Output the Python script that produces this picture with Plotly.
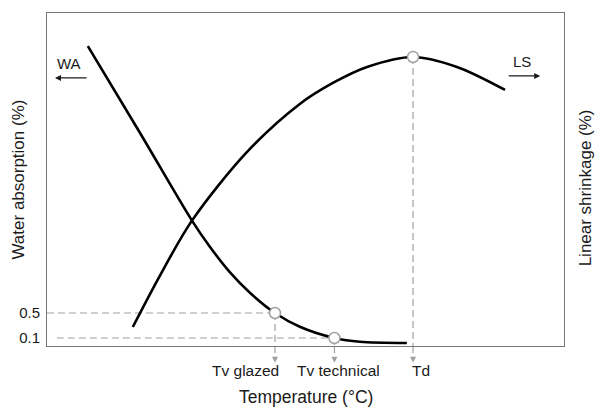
import plotly.graph_objects as go

# ---------------------------------------------------------
# Data (arbitrary temperature scale)
# ---------------------------------------------------------

temp_wa = [7.9, 18.0, 28.1, 31.5, 35.4, 39.3, 44.1, 48.9, 55.6, 60.5, 69.6]
water_absorption = [4.77, 3.38, 1.97, 1.56, 1.15, 0.82, 0.50, 0.28, 0.10, 0.04, 0.02]

temp_ls = [16.6, 21.9, 28.1, 38.7, 48.9, 55.3, 61.9, 70.8, 79.3, 88.6]
linear_shrinkage = [0.57, 2.13, 3.78, 5.83, 7.27, 7.90, 8.38, 8.68, 8.38, 7.69]

key_names = ["Tv glazed", "Tv technical", "Td"]
key_temps = [44.1, 55.6, 70.8]
wa_ticks = [0.5, 0.1]
ls_peak = 8.68

FONT = "Liberation Sans, Arial, sans-serif"
TEXT = "#1a1a1a"
GREY = "#a0a0a0"
DASH = "7px,4px"

fig = go.Figure()

fig.add_scatter(
    x=temp_wa,
    y=water_absorption,
    mode="lines",
    line=dict(color="black", width=2.6, shape="spline", smoothing=0.9),
    showlegend=False,
)

fig.add_scatter(
    x=temp_ls,
    y=linear_shrinkage,
    yaxis="y2",
    mode="lines",
    line=dict(color="black", width=2.6, shape="spline", smoothing=0.9),
    showlegend=False,
)

# dashed guide lines
shapes = [
    dict(type="line", xref="x", yref="y", x0=0, x1=key_temps[0],
         y0=wa_ticks[0], y1=wa_ticks[0]),
    dict(type="line", xref="x", yref="y", x0=1.9, x1=key_temps[1],
         y0=wa_ticks[1], y1=wa_ticks[1]),
    dict(type="line", xref="x", yref="y", x0=key_temps[0], x1=key_temps[0],
         y0=wa_ticks[0], y1=-0.03),
    dict(type="line", xref="x", yref="y", x0=key_temps[1], x1=key_temps[1],
         y0=wa_ticks[1], y1=-0.03),
    dict(type="line", xref="x", yref="y2", x0=key_temps[2], x1=key_temps[2],
         y0=ls_peak, y1=0),
]
for t in key_temps:
    shapes.append(
        dict(type="line", xref="x", yref="paper", x0=t, x1=t, y0=0, y1=-0.035)
    )
for s in shapes:
    s["line"] = dict(color=GREY, width=1.2, dash=DASH)
    s["layer"] = "below"

fig.update_layout(shapes=shapes)

# open circle markers
fig.add_scatter(
    x=key_temps[:2],
    y=wa_ticks,
    mode="markers",
    marker=dict(size=11, color="white", line=dict(color=GREY, width=1.5)),
    showlegend=False,
    cliponaxis=False,
)
fig.add_scatter(
    x=[key_temps[2]],
    y=[ls_peak],
    yaxis="y2",
    mode="markers",
    marker=dict(size=11, color="white", line=dict(color=GREY, width=1.5)),
    showlegend=False,
    cliponaxis=False,
)

annotations = []

# arrowheads under the axis + labels
for name, t, anchor, shift in zip(key_names, key_temps, ["right", "center", "left"], [6, 4, -3]):
    annotations.append(dict(
        x=t, y=-0.05, xref="x", yref="paper", text="", showarrow=True,
        ax=0, ay=-6, arrowhead=2, arrowsize=1, arrowwidth=1.2, arrowcolor=GREY,
    ))
    annotations.append(dict(
        x=t, y=-0.075, xref="x", yref="paper", text=name, showarrow=False,
        xanchor=anchor, yanchor="middle", xshift=shift,
        font=dict(size=15.5, color=TEXT),
    ))

# axis titles
annotations += [
    dict(x=0.5, y=-0.153, xref="paper", yref="paper", text="Temperature (°C)",
         showarrow=False, xanchor="center", yanchor="middle",
         font=dict(size=17.5, color=TEXT)),
    dict(x=-0.056, y=0.5, xref="paper", yref="paper", text="Water absorption (%)",
         showarrow=False, textangle=-90, xanchor="center", yanchor="middle",
         font=dict(size=17, color=TEXT)),
    dict(x=1.041, y=0.474, xref="paper", yref="paper", text="Linear shrinkage (%)",
         showarrow=False, textangle=-90, xanchor="center", yanchor="middle",
         font=dict(size=17, color=TEXT)),
]

# WA / LS direction hints
annotations += [
    dict(x=0.0426, y=0.849, xref="paper", yref="paper", text="WA",
         showarrow=False, xanchor="center", yanchor="middle",
         font=dict(size=15, color=TEXT)),
    dict(x=0.0155, y=0.805, xref="paper", yref="paper", text="", showarrow=True,
         ax=33, ay=0, arrowhead=2, arrowsize=1, arrowwidth=1.2, arrowcolor=TEXT),
    dict(x=0.919, y=0.853, xref="paper", yref="paper", text="LS",
         showarrow=False, xanchor="center", yanchor="middle",
         font=dict(size=15, color=TEXT)),
    dict(x=0.954, y=0.811, xref="paper", yref="paper", text="", showarrow=True,
         ax=-33, ay=0, arrowhead=2, arrowsize=1, arrowwidth=1.2, arrowcolor=TEXT),
]

fig.update_layout(
    width=596,
    height=410,
    margin=dict(l=47, r=32, t=13, b=64),
    paper_bgcolor="white",
    plot_bgcolor="white",
    font=dict(family=FONT, color=TEXT),
    annotations=annotations,
    xaxis=dict(
        range=[0, 100],
        showgrid=False,
        zeroline=False,
        showticklabels=False,
        showline=True,
        mirror=True,
        linecolor="#777",
        linewidth=1,
    ),
    yaxis=dict(
        range=[-0.028, 5.3],
        tickvals=wa_ticks,
        ticktext=[str(v) for v in wa_ticks],
        tickfont=dict(size=15, color=TEXT),
        ticks="outside",
        ticklen=3,
        tickcolor="rgba(0,0,0,0)",
        showgrid=False,
        zeroline=False,
        showline=True,
        mirror=True,
        linecolor="#777",
        linewidth=1,
    ),
    yaxis2=dict(
        range=[0, 10],
        overlaying="y",
        side="right",
        showticklabels=False,
        showgrid=False,
        zeroline=False,
    ),
)

# page body has a default margin; drop it so the figure sits at 0,0
fig.write_html(
    "out.html",
    config={"displayModeBar": False},
    post_script="document.body.style.margin='0';",
)
